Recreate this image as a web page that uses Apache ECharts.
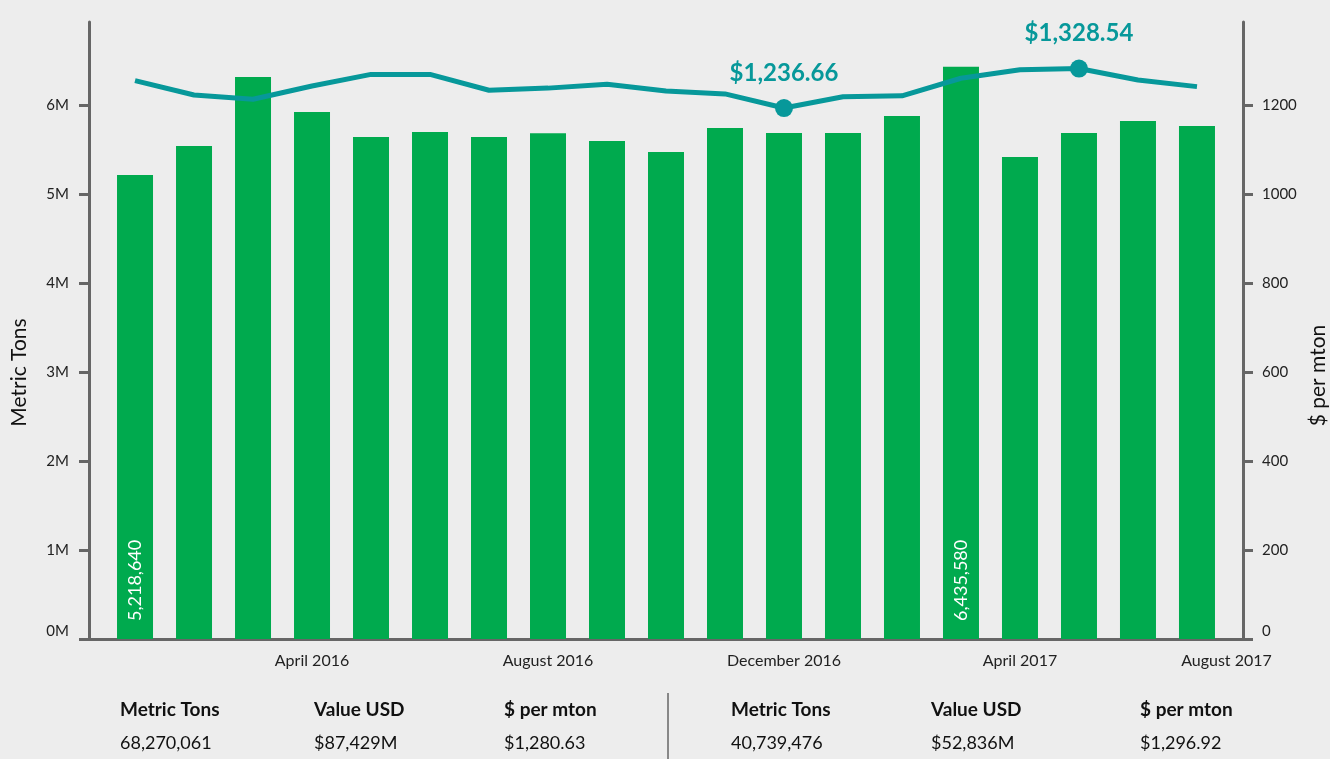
<!DOCTYPE html>
<html>
<head>
<meta charset="utf-8">
<title>Metric Tons and $ per mton</title>
<script src="https://cdn.jsdelivr.net/npm/echarts@6/dist/echarts.min.js"></script>
<style>
  html, body { margin: 0; padding: 0; background: #ededed; }
  #chart { width: 1330px; height: 759px; }
</style>
</head>
<body>
<div id="chart"></div>
<script>
// monthly data, Jan 2016 - Jul 2017
const months = [
  'January 2016', 'February 2016', 'March 2016', 'April 2016', 'May 2016', 'June 2016',
  'July 2016', 'August 2016', 'September 2016', 'October 2016', 'November 2016', 'December 2016',
  'January 2017', 'February 2017', 'March 2017', 'April 2017', 'May 2017', 'June 2017', 'July 2017'
]
const metricTons = [
  5218640, 5546000, 6322000, 5928000, 5647000, 5703000,
  5647000, 5688000, 5602000, 5478000, 5748000, 5692000,
  5692000, 5883000, 6435580, 5422000, 5692000, 5827000, 5771000
]
const pricePerMton = [
  1300.5, 1267, 1257, 1288, 1315, 1315,
  1278, 1283, 1292, 1276.5, 1269.5, 1236.66,
  1263, 1265, 1306, 1326, 1328.54, 1302, 1286.5
]
const axisMonths = ['April 2016', 'August 2016', 'December 2016', 'April 2017', 'August 2017']
const tonTicks = [0, 1000000, 2000000, 3000000, 4000000, 5000000, 6000000]
const priceTicks = [0, 200, 400, 600, 800, 1000, 1200]

const summaryHeads = ['Metric Tons', 'Value USD', '$ per mton']
const summary2016 = ['68,270,061', '$87,429M', '$1,280.63']
const summary2017 = ['40,739,476', '$52,836M', '$1,296.92']

const FONT = 'Lato, "Source Sans Pro", "Open Sans", sans-serif'
const GREEN = '#00aa4e'
const TEAL = '#07989a'
const AXIS = '#666666'

const last = months.length - 1
// label positions on the month index scale (August 2017 sits past the last bar)
const labelPos = axisMonths.map(m => {
  const i = months.indexOf(m)
  return i < 0 ? last + 0.5 : i
})

const tonMin = Math.min(...metricTons)
const tonMax = Math.max(...metricTons)
const priceMin = Math.min(...pricePerMton)
const priceMax = Math.max(...pricePerMton)

const barData = metricTons.map((v, i) => {
  const item = { value: [i, v] }
  if (v === tonMin || v === tonMax) {
    item.label = { show: true }
  }
  return item
})

const lineData = pricePerMton.map((v, i) => {
  const item = { value: [i, v] }
  if (v === priceMin || v === priceMax) {
    item.symbol = 'circle'
    item.symbolSize = 18
    item.label = { show: true }
  }
  return item
})

const chart = echarts.init(document.getElementById('chart'))

const headCols = [120, 314, 504, 731, 931, 1140]
const graphics = []
summaryHeads.concat(summaryHeads).forEach((t, i) => {
  graphics.push({
    type: 'text', left: headCols[i], top: 700,
    style: { text: t, font: 'bold 19px ' + FONT, fill: '#111' }
  })
})
summary2016.concat(summary2017).forEach((t, i) => {
  graphics.push({
    type: 'text', left: headCols[i], top: 734,
    style: { text: t, font: '18px ' + FONT, fill: '#111' }
  })
})
graphics.push({
  type: 'line',
  shape: { x1: 668, y1: 693, x2: 668, y2: 759 },
  style: { stroke: '#222', lineWidth: 1 }
})

chart.setOption({
  backgroundColor: '#ededed',
  animation: false,
  textStyle: { fontFamily: FONT },
  grid: { left: 89, right: 87, top: 22, bottom: 120, outerBoundsMode: 'none', containLabel: false },
  xAxis: {
    type: 'value',
    min: -0.78,
    max: last + 0.78,
    splitLine: { show: false },
    axisLine: { show: true, onZero: false, lineStyle: { color: AXIS, width: 3 } },
    axisTick: { show: false },
    axisLabel: {
      customValues: labelPos,
      margin: 14,
      fontSize: 16,
      color: '#222',
      formatter: v => axisMonths[labelPos.indexOf(v)] || ''
    }
  },
  yAxis: [
    {
      type: 'value',
      position: 'left',
      min: 0,
      max: 6940000,
      name: 'Metric Tons',
      nameLocation: 'middle',
      nameGap: 59,
      nameRotate: 90,
      nameTextStyle: { fontSize: 21, color: '#111', padding: [0, 84, 0, 0] },
      splitLine: { show: false },
      axisLine: { show: true, onZero: false, lineStyle: { color: AXIS, width: 3 } },
      axisTick: { show: true, customValues: tonTicks, length: 10, lineStyle: { color: AXIS, width: 3 } },
      axisLabel: {
        customValues: tonTicks,
        margin: 20,
        fontSize: 15,
        color: '#222',
        formatter: v => v === 0 ? '{z|0M}' : (v / 1000000) + 'M',
        rich: { z: { fontSize: 15, color: '#222', padding: [0, 0, 16, 0] } }
      }
    },
    {
      type: 'value',
      position: 'right',
      min: 0,
      max: 1388,
      name: '$ per mton',
      nameLocation: 'middle',
      nameGap: 64,
      nameRotate: 90,
      nameTextStyle: { fontSize: 21, color: '#111', padding: [0, 90, 0, 0] },
      splitLine: { show: false },
      axisLine: { show: true, onZero: false, lineStyle: { color: AXIS, width: 3 } },
      axisTick: { show: true, customValues: priceTicks, length: 10, lineStyle: { color: AXIS, width: 3 } },
      axisLabel: {
        customValues: priceTicks,
        margin: 19,
        fontSize: 15,
        color: '#222',
        formatter: v => v === 0 ? '{z|0}' : String(v),
        rich: { z: { fontSize: 15, color: '#222', padding: [0, 0, 16, 0] } }
      }
    },
    {
      // scale the price line is drawn on
      type: 'value',
      position: 'right',
      show: false,
      axisLine: { onZero: false },
      min: 0,
      max: 1437
    }
  ],
  series: [
    {
      name: 'Metric Tons',
      type: 'bar',
      yAxisIndex: 0,
      barWidth: 36,
      itemStyle: { color: GREEN },
      label: {
        show: false,
        position: 'insideBottom',
        rotate: 90,
        align: 'left',
        verticalAlign: 'middle',
        distance: 18,
        fontSize: 18,
        color: '#fff',
        formatter: p => p.value[1].toLocaleString('en-US')
      },
      data: barData
    },
    {
      name: '$ per mton',
      type: 'line',
      yAxisIndex: 2,
      symbol: 'none',
      lineStyle: { color: TEAL, width: 5 },
      itemStyle: { color: TEAL },
      label: {
        show: false,
        position: 'top',
        distance: 14,
        fontSize: 24,
        fontWeight: 'bold',
        color: TEAL,
        formatter: p => '$' + p.value[1].toLocaleString('en-US', { minimumFractionDigits: 2, maximumFractionDigits: 2 })
      },
      z: 3,
      data: lineData
    }
  ],
  graphic: graphics
})
</script>
</body>
</html>
